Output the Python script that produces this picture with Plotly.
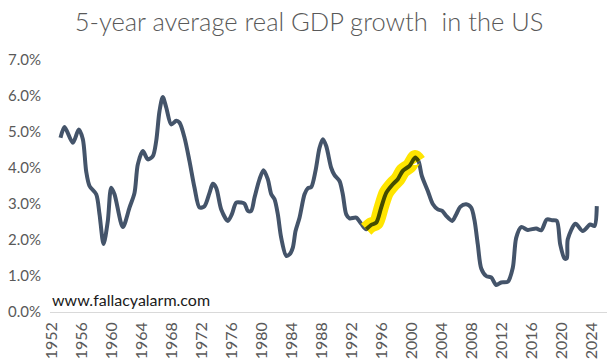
import plotly.graph_objects as go

years = [1953.13, 1953.67, 1954.77, 1955.57, 1956.11, 1956.56, 1957.0, 1957.89, 1958.33, 1958.87,
         1959.44, 1959.89, 1960.33, 1961.44, 1962.33, 1963.0, 1963.44, 1964.11, 1964.77, 1965.44,
         1965.89, 1966.33, 1966.77, 1967.23, 1967.89, 1968.56, 1969.0, 1969.67, 1970.33, 1971.0,
         1971.67, 1972.33, 1973.0, 1973.44, 1973.89, 1974.56, 1975.44, 1975.97, 1976.56, 1977.23,
         1977.67, 1978.11, 1978.56, 1979.0, 1979.67, 1980.2, 1980.77, 1981.23, 1981.67, 1982.11,
         1982.56, 1983.23, 1983.67, 1984.11, 1984.47, 1985.0, 1985.67, 1986.11, 1986.56, 1987.13,
         1987.67, 1988.11, 1988.56, 1989.23, 1989.67, 1990.33, 1990.77, 1991.23, 1991.67, 1992.56,
         1993.23, 1993.89, 1994.56, 1995.23, 1995.89, 1996.56, 1997.44, 1998.11, 1998.77, 1999.67,
         2000.43, 2000.87, 2001.31, 2002.11, 2002.77, 2003.44, 2004.03, 2004.56, 2005.36, 2005.89,
         2006.43, 2007.23, 2007.89, 2008.33, 2008.77, 2009.23, 2009.89, 2010.56, 2011.23, 2011.89,
         2012.77, 2013.44, 2013.89, 2014.56, 2015.44, 2016.56, 2017.23, 2017.97, 2018.69, 2019.31,
         2019.76, 2020.33, 2020.64, 2020.77, 2021.8, 2022.77, 2023.76, 2024.33, 2024.64]
growth = [4.84, 5.14, 4.70, 5.07, 4.80, 3.90, 3.50, 3.27, 2.72, 1.89,
          2.53, 3.45, 3.27, 2.36, 2.90, 3.31, 4.10, 4.47, 4.24, 4.33,
          4.75, 5.58, 5.97, 5.68, 5.21, 5.31, 5.26, 4.84, 4.19, 3.45,
          2.90, 2.94, 3.31, 3.56, 3.45, 2.85, 2.53, 2.71, 3.04, 3.04,
          3.01, 2.81, 2.81, 3.18, 3.69, 3.94, 3.69, 3.27, 3.13, 2.71,
          2.06, 1.56, 1.60, 1.79, 2.25, 2.62, 3.27, 3.44, 3.47, 3.92,
          4.56, 4.80, 4.61, 4.00, 3.80, 3.64, 3.27, 2.71, 2.60, 2.62,
          2.45, 2.30, 2.42, 2.48, 2.90, 3.31, 3.55, 3.69, 3.92, 4.06,
          4.29, 4.19, 3.78, 3.36, 3.00, 2.85, 2.81, 2.67, 2.53, 2.71,
          2.92, 2.99, 2.90, 2.55, 1.88, 1.21, 1.00, 0.96, 0.75, 0.82,
          0.84, 1.23, 2.06, 2.36, 2.28, 2.32, 2.27, 2.57, 2.55, 2.53,
          1.88, 1.49, 1.49, 2.02, 2.45, 2.25, 2.43, 2.39, 2.94]

highlight_start, highlight_end = 1993.8, 2000.9
tick_years = list(range(1952, 2025, 4))
y_ticks = [0, 1, 2, 3, 4, 5, 6, 7]

hx = [x for x in years if highlight_start <= x <= highlight_end]
hy = [v for x, v in zip(years, growth) if highlight_start <= x <= highlight_end]

fig = go.Figure()
fig.add_trace(go.Scatter(x=years, y=growth, mode="lines",
                         line=dict(color="#44546a", width=4, shape="spline", smoothing=0.8),
                         hoverinfo="skip", cliponaxis=False))
fig.add_trace(go.Scatter(x=hx, y=hy, mode="lines",
                         line=dict(color="#ffe500", width=15, shape="spline", smoothing=0.8),
                         hoverinfo="skip"))
fig.add_trace(go.Scatter(x=hx, y=hy, mode="lines",
                         line=dict(color="#444c00", width=4, shape="spline", smoothing=0.8),
                         hoverinfo="skip"))

fig.update_layout(
    width=612, height=364,
    margin=dict(l=50, r=5, t=60, b=52, autoexpand=False),
    paper_bgcolor="white", plot_bgcolor="white",
    showlegend=False,
    title=dict(text="5-year average real GDP growth  in the US",
               x=0.505, xanchor="center", y=0.94, yanchor="middle", yref="container",
               font=dict(family="Lato", size=25.5, color="#595959", weight=300)),
    xaxis=dict(range=[1951.73, 2026.0], tickmode="array", tickvals=tick_years,
               ticktext=[str(t) for t in tick_years], tickangle=-90, automargin=False,
               showgrid=False, zeroline=False, showline=False, ticks="",
               ticklabelstandoff=6,
               tickfont=dict(family="Lato", size=16, color="#595959")),
    yaxis=dict(range=[0, 7], tickmode="array", tickvals=y_ticks,
               ticktext=[f"{v:.1f}%" for v in y_ticks], automargin=False,
               showgrid=False, zeroline=True, zerolinecolor="#d9d9d9", zerolinewidth=1,
               showline=False, ticks="", ticklabelstandoff=8,
               tickfont=dict(family="Lato", size=15, color="#595959")),
    annotations=[dict(text="www.fallacyalarm.com", xref="paper", yref="paper",
                      x=0.0, y=0.005, xanchor="left", yanchor="bottom", showarrow=False,
                      font=dict(family="Lato", size=16, color="#1a1a1a"))],
)

fig.write_html("out.html", config={"displayModeBar": False},
               post_script="document.body.style.margin='0';")
